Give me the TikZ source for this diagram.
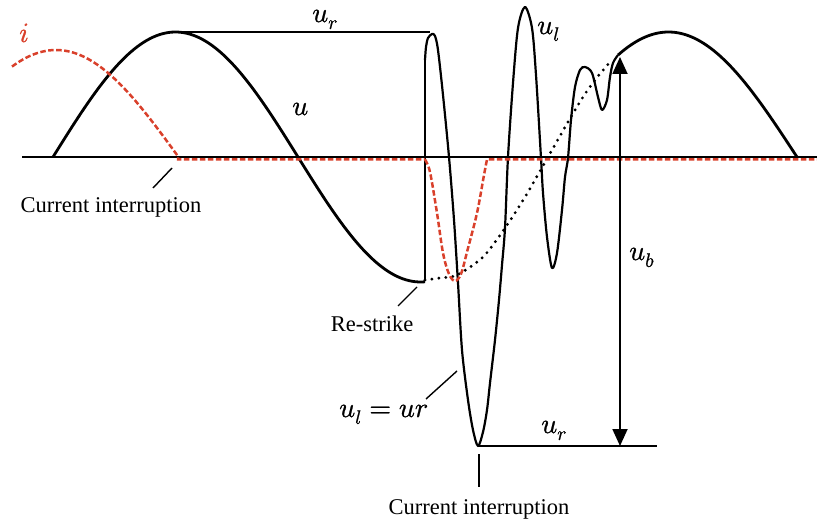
\documentclass[tikz,border=0pt]{standalone}
\usepackage{fontspec}
\usepackage{unicode-math}
\setmainfont{Liberation Serif}
\setmathfont[FakeBold=0.8]{Latin Modern Math}
\usetikzlibrary{arrows.meta}
\definecolor{ired}{RGB}{217,64,43}
\begin{document}
\begin{tikzpicture}[x=1pt,y=-1pt,
  axisline/.style={line width=1.8pt},
  wave/.style={line width=2.8pt,line join=round},
  osc/.style={line width=2.2pt,line join=round},
  curr/.style={ired,line width=2.5pt,dash pattern=on 5.5pt off 2.5pt},
  dots/.style={line width=3.2pt,line cap=round,dash pattern=on 0pt off 7pt},
  leader/.style={line width=1.4pt},
  txt/.style={font=\fontsize{22.5}{26}\selectfont,inner sep=0pt},
  mlab/.style={font=\fontsize{28}{30}\selectfont,inner sep=0pt,anchor=base west}]
\useasboundingbox (0,0) rectangle (817,524);
% key points
\coordinate (axL) at (22,157);
\coordinate (axR) at (817,157);
\coordinate (pk1) at (178,32);
\coordinate (topR) at (430,32);
\coordinate (rs) at (425,280);
\coordinate (rsTop) at (425,60);
\coordinate (trough) at (478,446);
\coordinate (botR) at (657,446);
\coordinate (ubTop) at (620,57);
\coordinate (ubBot) at (620,446);
% axis
\draw[axisline] (axL) -- (axR);
% top u_r line
\draw[axisline] (pk1) -- (topR);
% bottom u_r line
\draw[line width=2pt] (trough) -- (botR);
% source voltage u (first part)
\draw[wave] plot[domain=53:425,samples=120] (\x,{157-125*sin((\x-53)/245*180)});
% vertical jump at re-strike
\draw[osc] (rs) -- (rsTop);
% oscillation u_l
\draw[osc] plot[smooth,tension=0.5] coordinates {
 (425,60) (426,47) (428,38) (432,34) (435,36) (438,50) (443,95) (449,157)
 (454,220) (458,283) (462,350) (468,400) (473,430) (478,446) (483,432)
 (487,410) (490,383) (495,340) (499,300) (502,265) (505,228) (508,157)
 (513,83) (518,28) (525,7) (532,28) (536,75) (541,158) (543,193) (547,237)
 (552,268) (557,253) (562,210) (565,177) (568,158) (571,120) (575,87)
 (580,70) (585,67) (592,73) (598,97) (602,110) (607,100) (610,77) (613,63) (618,55)};
% second arc
\draw[wave] plot[domain=618:797,samples=80] (\x,{157-125*cos((\x-668.5)/257*180)});
% dotted prospective voltage
\draw[dots] plot[smooth] coordinates {(425,280) (440,278) (457,275) (483,257) (505,228) (525,197) (548,157) (568,122) (583,97) (595,80) (610,62)};
% current i
\draw[curr] plot[domain=12:178,samples=60] (\x,{157-107*cos((\x-56)/245*180)}) -- (178,159.5) -- (425,159.5)
  plot[smooth,tension=0.55] coordinates {(425,159.5) (430,172) (437,213) (443,253) (449,274) (455,281) (461,274) (467,252) (477,213) (484,175) (487,159.5)}
  -- (817,159.5);
% u_b double arrow
\draw[line width=1.8pt,{Triangle[length=17pt,width=15pt]}-{Triangle[length=17pt,width=15pt]}] (ubTop) -- (ubBot);
% labels
\node[mlab,text=ired] (ilab) at (19,42) {$i$};
\node[mlab] (urtop) at (312,22) {$u_r$};
\node[mlab] (ulab) at (292,115) {$u$};
\node[mlab] (ultop) at (537,34) {$u_l$};
\node[mlab] (ub) at (629,260) {$u_b$};
\node[mlab] (urbot) at (541,433) {$u_r$};
\node[mlab] (uleq) at (339,417) {$u_l=ur$};
\node[txt] (ci1) at (111,207) {Current interruption};
\node[txt] (restr) at (372,324) {Re-strike};
\node[txt] (ci2) at (479,509) {Current interruption};
% leaders
\coordinate (l1a) at (172,168); \coordinate (l1b) at (153,188);
\coordinate (l2a) at (417,287); \coordinate (l2b) at (398,306);
\coordinate (l3a) at (457,371); \coordinate (l3b) at (426,399);
\coordinate (l4a) at (479,454); \coordinate (l4b) at (479,487);
\draw[leader] (l1a) -- (l1b);
\draw[leader] (l2a) -- (l2b);
\draw[leader] (l3a) -- (l3b);
\draw[leader] (l4a) -- (l4b);
\end{tikzpicture}
\end{document}
